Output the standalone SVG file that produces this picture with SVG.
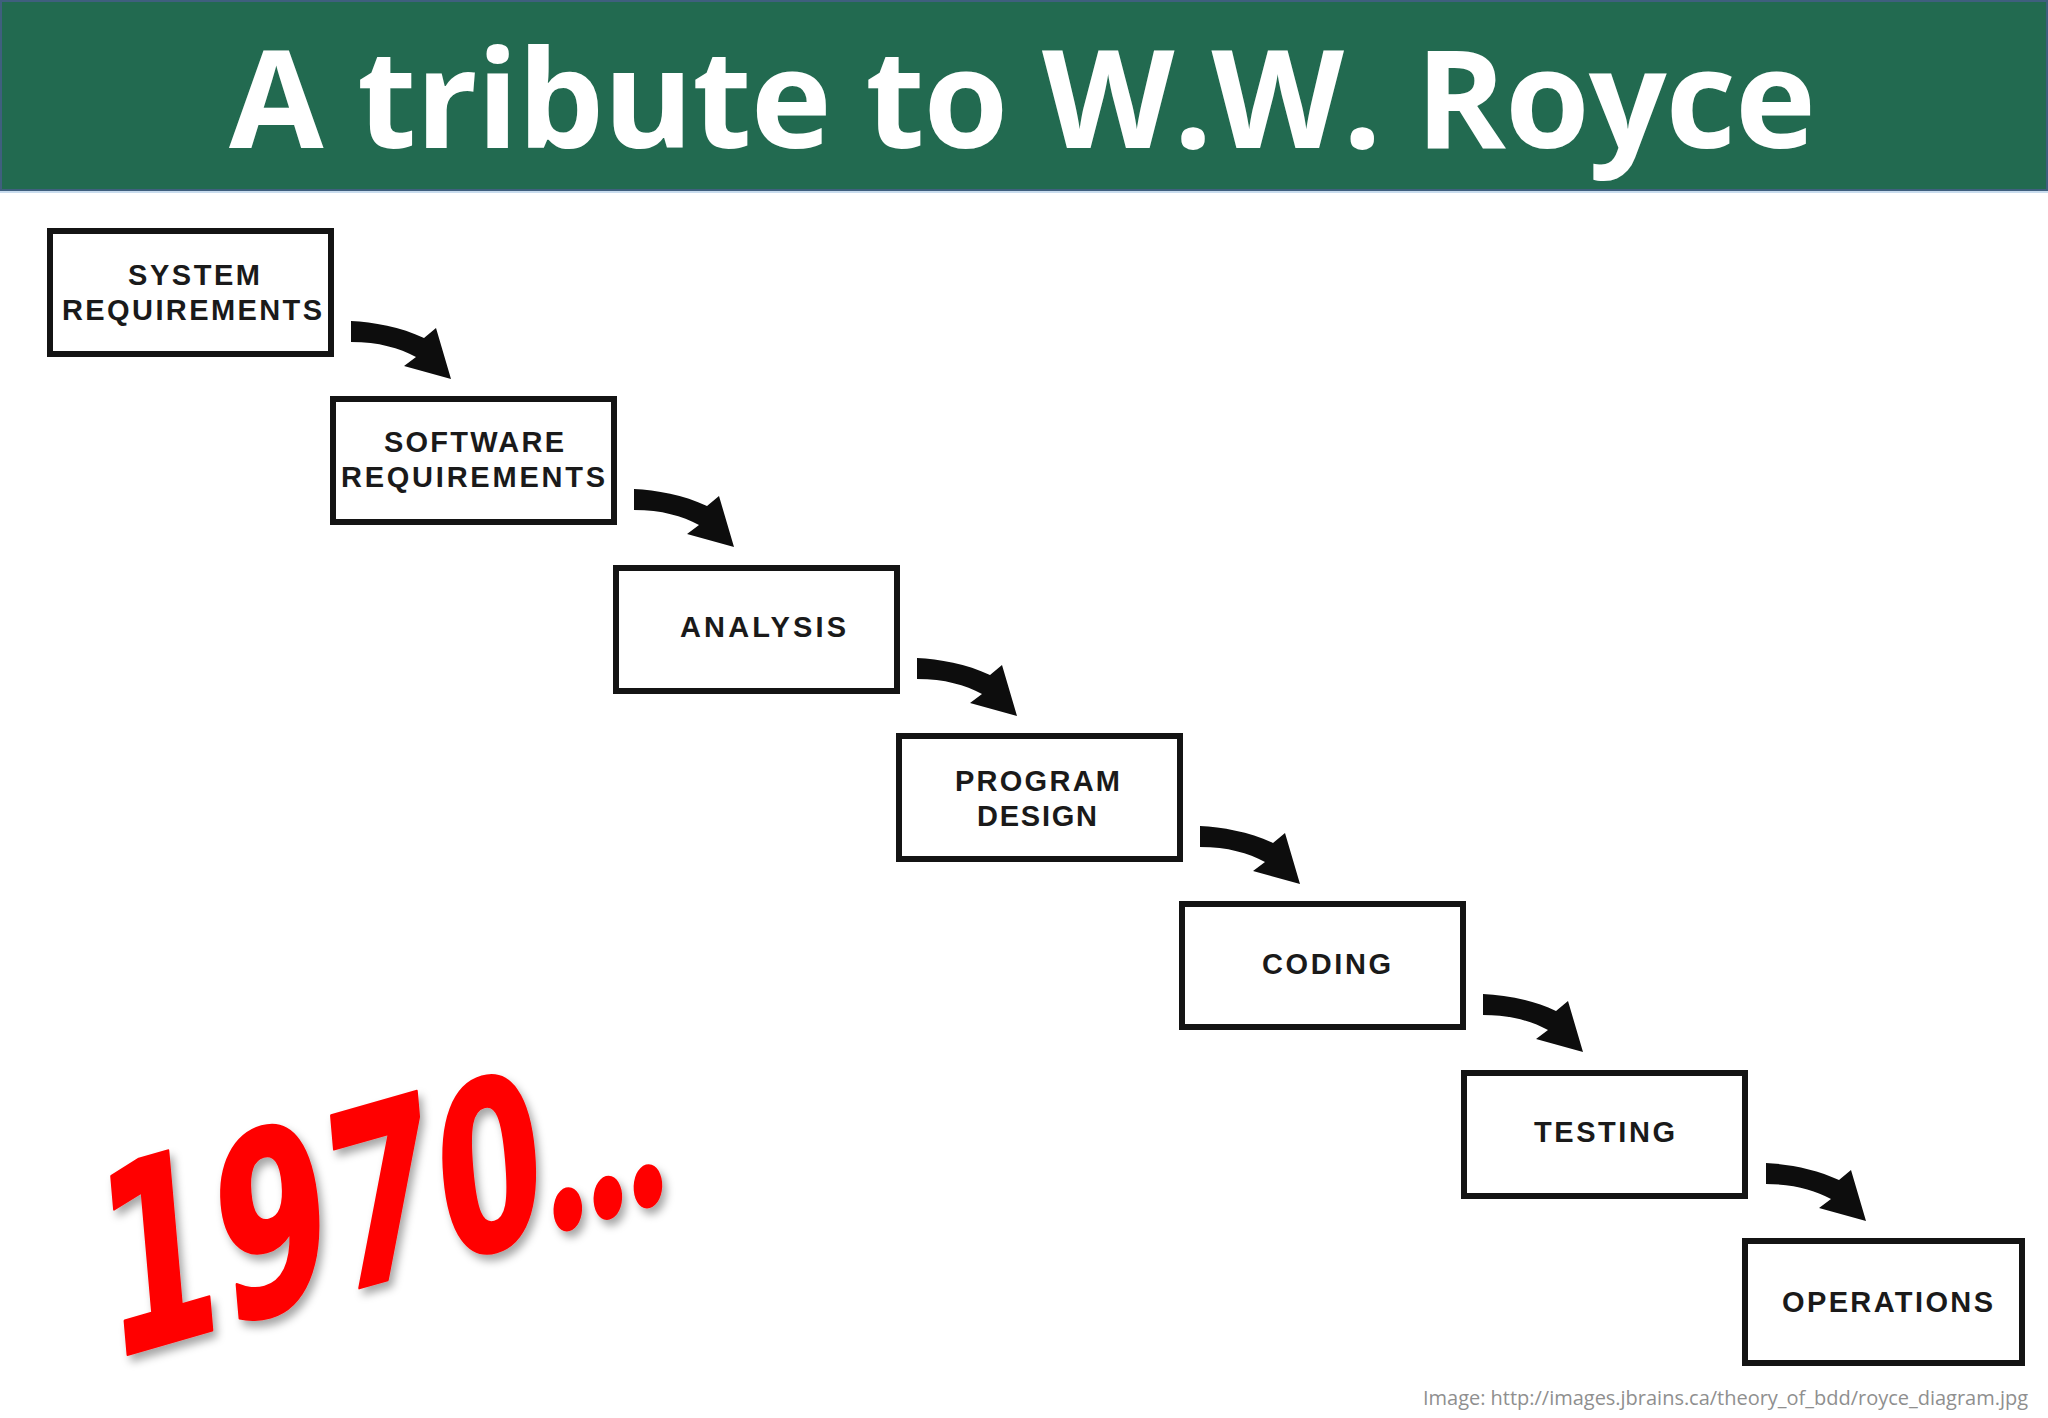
<svg xmlns="http://www.w3.org/2000/svg" width="2048" height="1418" viewBox="0 0 2048 1418">
<style>
.box{fill:#fff;stroke:#141414;stroke-width:6}
.lbl{font-family:"Liberation Sans",Arial,sans-serif;font-weight:bold;font-size:29px;fill:#1a1a1a}
.arr{fill:#0d0d0d}
.title{font-family:"Open Sans","Liberation Sans",sans-serif;font-weight:bold;font-size:137px;fill:#fff}
.cap{font-family:"Open Sans","Liberation Sans",sans-serif;font-size:20px;fill:#8f8f8f}
.year{font-family:"DejaVu Sans",sans-serif;font-weight:bold;fill:#ff0000;stroke:#ff0000;stroke-width:3;stroke-linejoin:round}
.dots{font-family:Lato,"Open Sans",sans-serif}
</style>
<defs>
<path id="arrow" d="M0,-2 C22,-1 50,4 73,15 L85,5 L100,56 L53,43 L65,34 C48,25 28,19 0,19 Z"/>
<filter id="shadow" filterUnits="userSpaceOnUse" x="40" y="1000" width="760" height="418">
<feDropShadow dx="4" dy="6" stdDeviation="4" flood-color="#000" flood-opacity="0.35"/>
</filter>
</defs>
<rect width="2048" height="1418" fill="#fff"/>
<g id="header">
<rect x="1" y="1" width="2046" height="189" fill="#226a50" stroke="#3f5f7e" stroke-width="2"/>
<line x1="0" y1="192" x2="2048" y2="192" stroke="#c9dcee" stroke-width="2"/>
<text class="title" x="229" y="148" textLength="1587" lengthAdjust="spacing">A tribute to W.W. Royce</text>
</g>
<g id="connectors">
<use href="#arrow" class="arr" transform="translate(351,323)"/>
<use href="#arrow" class="arr" transform="translate(634,491)"/>
<use href="#arrow" class="arr" transform="translate(917,660)"/>
<use href="#arrow" class="arr" transform="translate(1200,828)"/>
<use href="#arrow" class="arr" transform="translate(1483,996)"/>
<use href="#arrow" class="arr" transform="translate(1766,1165)"/>
</g>
<g id="system-requirements">
<rect class="box" x="50" y="231" width="281" height="123"/>
<text class="lbl" x="128" y="285" textLength="132" lengthAdjust="spacing">SYSTEM</text>
<text class="lbl" x="62" y="320" textLength="260" lengthAdjust="spacing">REQUIREMENTS</text>
</g>
<g id="software-requirements">
<rect class="box" x="333" y="399" width="281" height="123"/>
<text class="lbl" x="384" y="452" textLength="180" lengthAdjust="spacing">SOFTWARE</text>
<text class="lbl" x="341" y="487" textLength="264" lengthAdjust="spacing">REQUIREMENTS</text>
</g>
<g id="analysis">
<rect class="box" x="616" y="568" width="281" height="123"/>
<text class="lbl" x="680" y="637" textLength="166" lengthAdjust="spacing">ANALYSIS</text>
</g>
<g id="program-design">
<rect class="box" x="899" y="736" width="281" height="123"/>
<text class="lbl" x="955" y="791" textLength="165" lengthAdjust="spacing">PROGRAM</text>
<text class="lbl" x="977" y="826" textLength="120" lengthAdjust="spacing">DESIGN</text>
</g>
<g id="coding">
<rect class="box" x="1182" y="904" width="281" height="123"/>
<text class="lbl" x="1262" y="974" textLength="129" lengthAdjust="spacing">CODING</text>
</g>
<g id="testing">
<rect class="box" x="1464" y="1073" width="281" height="123"/>
<text class="lbl" x="1534" y="1142" textLength="141" lengthAdjust="spacing">TESTING</text>
</g>
<g id="operations">
<rect class="box" x="1745" y="1241" width="277" height="122"/>
<text class="lbl" x="1782" y="1312" textLength="211" lengthAdjust="spacing">OPERATIONS</text>
</g>
<g id="year" filter="url(#shadow)">
<text class="year" transform="matrix(0.645,-0.185,0.087,0.996,108,1360)" x="0" y="0"><tspan font-size="258">1</tspan><tspan font-size="250">9</tspan><tspan font-size="242">7</tspan><tspan font-size="232">0</tspan><tspan class="dots" font-size="270" letter-spacing="-2">...</tspan></text>
</g>
<text class="cap" x="1423" y="1405" textLength="605" lengthAdjust="spacing">Image: http://images.jbrains.ca/theory_of_bdd/royce_diagram.jpg</text>
</svg>
